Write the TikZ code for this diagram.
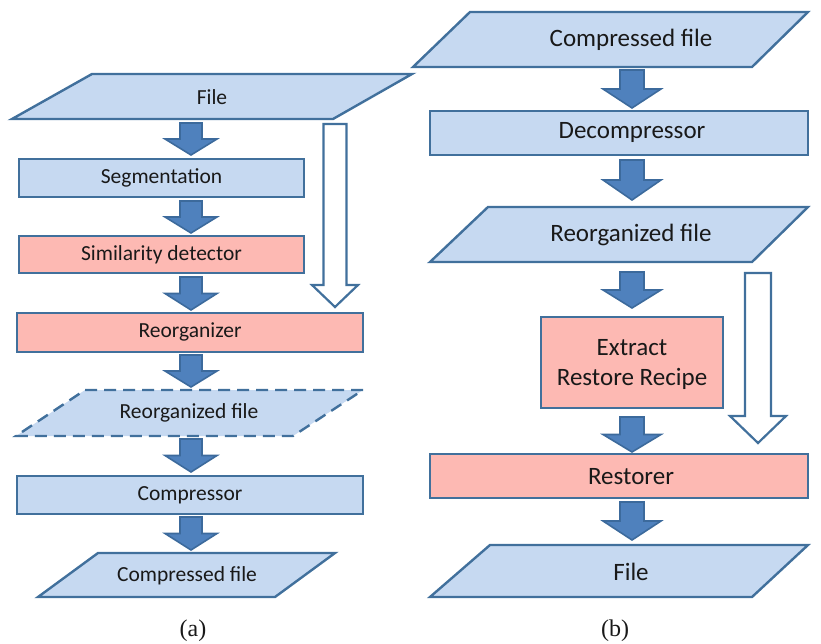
\documentclass[tikz,border=0pt]{standalone}
\usepackage{fontspec}
\setmainfont{Carlito}
\newfontfamily\capfont{Liberation Serif}
\definecolor{lightblue}{HTML}{C6D9F1}
\definecolor{lightpink}{HTML}{FDB9B3}
\definecolor{edgeblue}{HTML}{41709C}
\definecolor{arrowblue}{HTML}{4F81BD}
\definecolor{arrowedge}{HTML}{3C6A9C}
\tikzset{
  blockbox/.style={draw=edgeblue, line width=2.4pt, fill=lightblue},
  pinkbox/.style={draw=edgeblue, line width=2.4pt, fill=lightpink},
  datashape/.style={draw=edgeblue, line width=2.4pt, fill=lightblue, line join=miter},
  label/.style={text=black!90, inner sep=0pt},
  smalltxt/.style={label, font=\fontsize{21.5}{26}\selectfont},
  bigtxt/.style={label, font=\fontsize{25}{30}\selectfont},
  captxt/.style={label, font=\capfont\fontsize{24}{28}\selectfont},
  flowarrow/.style={fill=arrowblue, draw=arrowedge, line width=1.6pt, line join=miter},
  hollowarrow/.style={fill=white, draw=edgeblue, line width=2.2pt, line join=miter},
}
% filled block arrow: centre x, top y, tip y, shaft half width, head half width
\newcommand\blockdown[5]{%
  \pgfmathsetmacro\hs{#2+0.5*(#3-#2)}%
  \draw[flowarrow] (#1-#4,#2) -- (#1+#4,#2) -- (#1+#4,\hs) -- (#1+#5,\hs)
     -- (#1,#3) -- (#1-#5,\hs) -- (#1-#4,\hs) -- cycle;}
% hollow block arrow: centre x, top y, tip y, shaft half width, head half width, head start y
\newcommand\hollowdown[6]{%
  \draw[hollowarrow] (#1-#4,#2) -- (#1+#4,#2) -- (#1+#4,#6) -- (#1+#5,#6)
     -- (#1,#3) -- (#1-#5,#6) -- (#1-#4,#6) -- cycle;}
\begin{document}
\begin{tikzpicture}[x=1pt,y=-1pt]
\useasboundingbox (0,0) rectangle (821,644);

% ---------------- (a) compression ----------------
\draw[datashape] (92,74) -- (412,74) -- (333,119) -- (12,119) -- cycle;
\node[smalltxt] (afile) at (212,97) {File};

\draw[blockbox] (19,159) rectangle (304,197);
\node[smalltxt] (seg) at (161.5,178) {Segmentation};

\draw[pinkbox] (19,236) rectangle (304,273);
\node[smalltxt] (sim) at (161.5,255) {Similarity detector};

\draw[pinkbox] (17,313) rectangle (363,352);
\node[smalltxt] (reorg) at (190,332) {Reorganizer};

\draw[datashape, dash pattern=on 12pt off 7pt] (85,390) -- (363,390) -- (293,436) -- (16,436) -- cycle;
\node[smalltxt] (areorgfile) at (189,413) {Reorganized file};

\draw[blockbox] (17,476) rectangle (363,514);
\node[smalltxt] (comp) at (190,495) {Compressor};

\draw[datashape] (98,553) -- (335,553) -- (275,597) -- (38,597) -- cycle;
\node[smalltxt] (acomp) at (187,576) {Compressed file};

\blockdown{191}{123}{155}{11}{26}
\blockdown{191}{201}{233}{11}{26}
\blockdown{191}{277}{310}{11}{26}
\blockdown{191}{355}{387}{11}{26}
\blockdown{191}{439}{472}{11}{26}
\blockdown{191}{517}{550}{11}{26}

\hollowdown{335}{124}{307}{11.5}{23}{285}

\node[captxt] (capa) at (193,631) {(a)};

% ---------------- (b) decompression ----------------
\draw[datashape] (470,12) -- (808,12) -- (752,67) -- (413,67) -- cycle;
\node[bigtxt] (bcomp) at (631,40) {Compressed file};

\draw[blockbox] (430,111) rectangle (808,155);
\node[bigtxt] (decomp) at (632,132) {Decompressor};

\draw[datashape] (488,207) -- (808,207) -- (752,262) -- (430,262) -- cycle;
\node[bigtxt] (breorgfile) at (631,235) {Reorganized file};

\draw[pinkbox] (541,317) rectangle (723,408);
\node[bigtxt, align=center] (extract) at (632,364) {Extract\\Restore Recipe};

\draw[pinkbox] (430,454) rectangle (808,498);
\node[bigtxt] (restorer) at (631,477) {Restorer};

\draw[datashape] (490,545) -- (808,545) -- (752,597) -- (430,597) -- cycle;
\node[bigtxt] (bfile) at (631,572) {File};

\blockdown{632}{70}{108}{12}{29}
\blockdown{632}{160}{200}{12}{29}
\blockdown{632}{272}{308}{12}{29}
\blockdown{632}{417}{452}{12}{29}
\blockdown{632}{502}{540}{12}{29}

\hollowdown{758}{273}{443}{13}{28}{416}

\node[captxt] (capb) at (615,631) {(b)};
\end{tikzpicture}
\end{document}
